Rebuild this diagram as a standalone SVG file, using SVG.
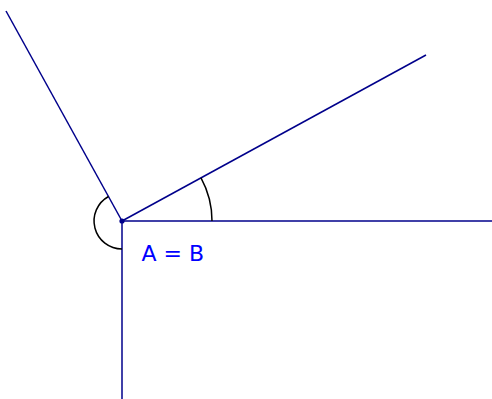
<svg xmlns="http://www.w3.org/2000/svg" width="492" height="399" viewBox="0 0 492 399">
<style>
.ray{stroke:#00008b;stroke-width:1.5;fill:none}
.arc{stroke:#000;stroke-width:1.5;fill:none}
.lbl{font-family:"DejaVu Sans",sans-serif;font-size:22px;fill:#0000ff}
</style>
<rect width="492" height="399" fill="#fff"/>
<g id="connectors">
<line class="ray" x1="122" y1="221" x2="492" y2="221"/>
<line class="ray" x1="122" y1="221" x2="426" y2="55"/>
<line class="ray" x1="122" y1="221" x2="6" y2="11"/>
<line class="ray" x1="122" y1="221" x2="122" y2="399"/>
</g>
<g id="angles">
<path class="arc" d="M212,221 A90,90 0 0 0 201,177.9"/>
<path class="arc" d="M108.5,196.5 A28,28 0 0 0 122,249"/>
</g>
<g id="vertex">
<circle cx="122" cy="221" r="2.6" fill="#00008b"/>
<text class="lbl" x="141.5" y="261">A = B</text>
</g>
</svg>
